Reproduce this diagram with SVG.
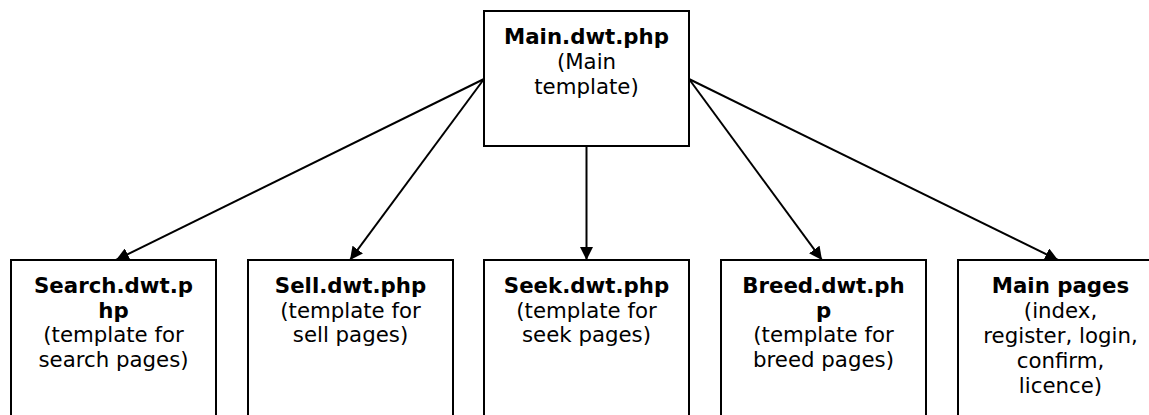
<svg xmlns="http://www.w3.org/2000/svg" width="1149" height="415" viewBox="0 0 1149 415">
  <style>
    .box { fill: #ffffff; stroke: #000000; stroke-width: 2; }
    .edge { stroke: #000000; stroke-width: 2; fill: none; marker-end: url(#arrow); }
    text { font-family: "DejaVu Sans", Verdana, sans-serif; font-size: 21.3px; fill: #000000; text-anchor: middle; }
    .title { font-weight: bold; }
  </style>
  <defs>
    <marker id="arrow" viewBox="0 0 10 10" refX="10" refY="5" markerWidth="13" markerHeight="13" markerUnits="userSpaceOnUse" orient="auto">
      <path d="M0,0 L10,5 L0,10 Z" fill="#000000"/>
    </marker>
  </defs>
  <rect width="1149" height="415" fill="#ffffff"/>

  <!-- template hierarchy links -->
  <g id="connectors">
    <line class="edge" x1="484" y1="79" x2="116" y2="260"/>
    <line class="edge" x1="484" y1="79" x2="350" y2="260"/>
    <line class="edge" x1="586.5" y1="146" x2="586.5" y2="260"/>
    <line class="edge" x1="689" y1="79" x2="822" y2="260"/>
    <line class="edge" x1="689" y1="79" x2="1058" y2="260"/>
  </g>

  <g id="main-template">
    <rect class="box" x="484" y="11" width="205" height="135"/>
    <text x="586.5" y="44" class="title">Main.dwt.php</text>
    <text x="586.5" y="69">(Main</text>
    <text x="586.5" y="93.5">template)</text>
  </g>

  <g id="search-template">
    <rect class="box" x="11" y="260" width="205" height="170"/>
    <text x="113.5" y="293" class="title">Search.dwt.p</text>
    <text x="113.5" y="317.5" class="title">hp</text>
    <text x="113.5" y="342">(template for</text>
    <text x="113.5" y="367">search pages)</text>
  </g>

  <g id="sell-template">
    <rect class="box" x="248" y="260" width="205" height="170"/>
    <text x="350.5" y="293" class="title">Sell.dwt.php</text>
    <text x="350.5" y="317.5">(template for</text>
    <text x="350.5" y="342">sell pages)</text>
  </g>

  <g id="seek-template">
    <rect class="box" x="484" y="260" width="205" height="170"/>
    <text x="586.5" y="293" class="title">Seek.dwt.php</text>
    <text x="586.5" y="317.5">(template for</text>
    <text x="586.5" y="342">seek pages)</text>
  </g>

  <g id="breed-template">
    <rect class="box" x="721" y="260" width="205" height="170"/>
    <text x="823.5" y="293" class="title">Breed.dwt.ph</text>
    <text x="823.5" y="317.5" class="title">p</text>
    <text x="823.5" y="342">(template for</text>
    <text x="823.5" y="367">breed pages)</text>
  </g>

  <g id="main-pages">
    <rect class="box" x="958" y="260" width="205" height="170"/>
    <text x="1060.5" y="293" class="title">Main pages</text>
    <text x="1060.5" y="318">(index,</text>
    <text x="1060.5" y="343">register, login,</text>
    <text x="1060.5" y="368">confirm,</text>
    <text x="1060.5" y="393">licence)</text>
  </g>
</svg>
